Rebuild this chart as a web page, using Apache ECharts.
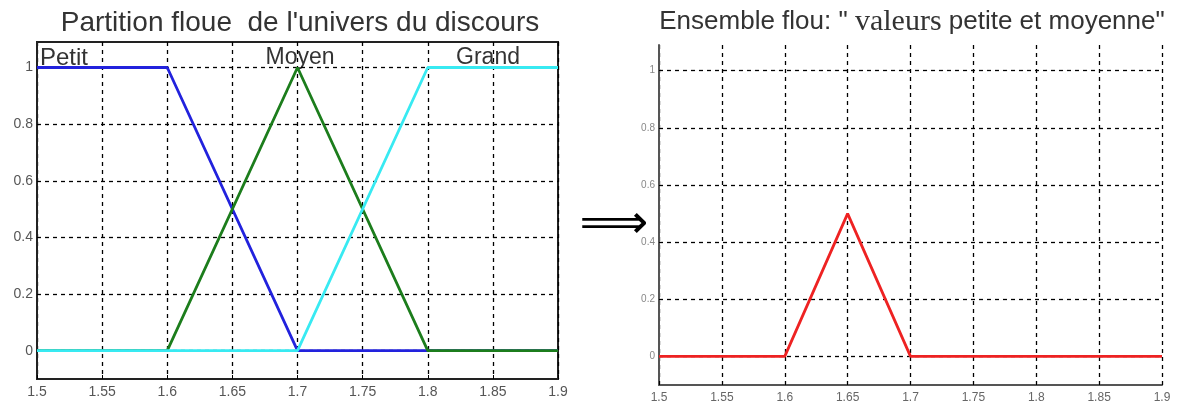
<!DOCTYPE html>
<html><head><meta charset="utf-8">
<script src="https://cdn.jsdelivr.net/npm/echarts@6/dist/echarts.min.js"></script>
<style>html,body{margin:0;padding:0;background:#fff}#c{width:1182px;height:404px}</style>
</head><body><div id="c"></div>
<script>
const xTicks = [1.5, 1.55, 1.6, 1.65, 1.7, 1.75, 1.8, 1.85, 1.9];
const xTickLabels = ['1.5', '1.55', '1.6', '1.65', '1.7', '1.75', '1.8', '1.85', '1.9'];
const yTicks = [0, 0.2, 0.4, 0.6, 0.8, 1];
const yTickLabels = ['0', '0.2', '0.4', '0.6', '0.8', '1'];
const petitX = [1.5, 1.6, 1.7, 1.9];
const petitY = [1, 1, 0, 0];
const moyenX = [1.5, 1.6, 1.7, 1.8, 1.9];
const moyenY = [0, 0, 1, 0, 0];
const grandX = [1.5, 1.7, 1.8, 1.9];
const grandY = [0, 0, 1, 1];
const resultX = [1.5, 1.6, 1.65, 1.7, 1.9];
const resultY = [0, 0, 0.5, 0, 0];
const leftTitle = "Partition floue  de l'univers du discours";
const rightTitleParts = ['Ensemble flou: " ', 'valeurs', ' petite et moyenne"'];
const setNames = ['Petit', 'Moyen', 'Grand'];

function pairs(xs, ys) { return xs.map((x, i) => [x, ys[i]]); }
function lab(ticks, labels) {
  return v => { const i = ticks.findIndex(t => Math.abs(t - v) < 1e-6); return i >= 0 ? labels[i] : ''; };
}
const dash = { color: '#000', width: 1.3, type: [4, 4] };

const chart = echarts.init(document.getElementById('c'), null, { renderer: 'canvas' });
const xAxisBase = (gi, fs, col) => ({
  gridIndex: gi, type: 'value', min: 1.5, max: 1.9,
  axisLine: { show: true, onZero: false, lineStyle: { color: gi === 0 ? '#222' : '#555', width: 2 } },
  axisTick: { show: true, inside: true, length: 4, customValues: xTicks, lineStyle: { color: '#000' } },
  axisLabel: { customValues: xTicks, formatter: lab(xTicks, xTickLabels), fontFamily: 'Arial, "Liberation Sans"', fontSize: fs, color: col, margin: gi === 0 ? 6 : 7 },
  splitLine: { show: true, lineStyle: dash }
});
const yAxisBase = (gi, fs, col) => ({
  gridIndex: gi, type: 'value', min: -0.1, max: 1.09,
  axisLine: { show: true, onZero: false, lineStyle: { color: gi === 0 ? '#222' : '#555', width: 2 } },
  axisTick: { show: true, inside: true, length: 4, customValues: yTicks, lineStyle: { color: '#000' } },
  axisLabel: { customValues: yTicks, formatter: lab(yTicks, yTickLabels), fontFamily: 'Arial, "Liberation Sans"', fontSize: fs, color: col, margin: 4 },
  splitLine: { show: true, lineStyle: dash }
});
const line = (name, xi, data, color) => ({
  name, type: 'line', xAxisIndex: xi, yAxisIndex: xi, data, symbol: 'none',
  lineStyle: { color, width: 2.8 }, itemStyle: { color }, animation: false, clip: false
});

chart.setOption({
  animation: false,
  grid: [
    { left: 37, top: 42, width: 521, height: 337, show: true, borderColor: '#222', borderWidth: 2, backgroundColor: 'transparent' },
    { left: 659, top: 45, width: 503, height: 340, show: false }
  ],
  xAxis: [xAxisBase(0, 14, '#555'), xAxisBase(1, 12, '#666')],
  yAxis: [yAxisBase(0, 14, '#555'), yAxisBase(1, 10, '#888')],
  series: [
    line(setNames[0], 0, pairs(petitX, petitY), '#2222dd'),
    line(setNames[1], 0, pairs(moyenX, moyenY), '#1c7d1c'),
    line(setNames[2], 0, pairs(grandX, grandY), '#38eaf2'),
    line('Ensemble', 1, pairs(resultX, resultY), '#ee2222')
  ],
  graphic: [
    { type: 'text', style: { text: leftTitle, x: 300, y: 23, align: 'center', verticalAlign: 'middle', font: '28px Arial, "Liberation Sans"', fill: '#333' } },
    { type: 'text', style: { x: 912, y: 22, align: 'center', verticalAlign: 'middle',
      text: '{a|' + rightTitleParts[0] + '}{b|' + rightTitleParts[1] + '}{a|' + rightTitleParts[2] + '}',
      rich: { a: { fontFamily: 'Arial, "Liberation Sans"', fontSize: 26, fill: '#333' }, b: { fontFamily: '"Liberation Serif", serif', fontSize: 30, fill: '#333' } } } },
    { type: 'text', style: { x: 40, y: 58, text: setNames[0], verticalAlign: 'middle', font: '24px Arial, "Liberation Sans"', fill: '#333' } },
    { type: 'text', style: { x: 300, y: 58, text: setNames[1], align: 'center', verticalAlign: 'middle', font: '23px Arial, "Liberation Sans"', fill: '#333' } },
    { type: 'text', style: { x: 488, y: 58, text: setNames[2], align: 'center', verticalAlign: 'middle', font: '23px Arial, "Liberation Sans"', fill: '#333' } },
    { type: 'text', style: { x: 614, y: 226, text: '\u27F9', align: 'center', verticalAlign: 'middle', font: '48px "DejaVu Sans"', fill: '#000' } }
  ]
});
</script></body></html>
